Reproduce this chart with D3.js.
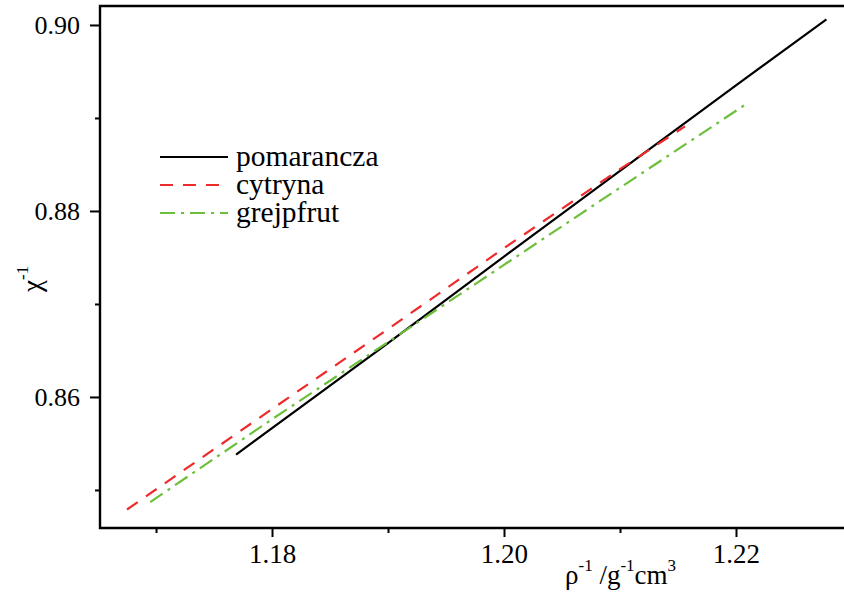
<!DOCTYPE html>
<html>
<head>
<meta charset="utf-8">
<script src="https://cdn.jsdelivr.net/npm/d3@7"></script>
<style>
  body { margin: 0; background: #fff; }
  svg { display: block; font-family: "Liberation Serif", "Times New Roman", serif; }
</style>
</head>
<body>
<div class="chart"></div>
<script>
// series (x = 1/rho, y = 1/chi)
var names = ["pomarancza", "cytryna", "grejpfrut"];
var colors = ["#000000", "#ee2a2a", "#6cbf3c"];
var dashes = [null, "13,10", "15,6,3,6"];

var pomaranczaX = [1.1769, 1.19, 1.20, 1.21, 1.22, 1.2278];
var pomaranczaY = [0.8538, 0.8658, 0.8751, 0.8843, 0.8935, 0.9006];

var cytrynaX = [1.1675, 1.18, 1.19, 1.20, 1.21, 1.2156];
var cytrynaY = [0.8479, 0.8587, 0.8673, 0.8760, 0.8845, 0.8891];

var grejpfrutX = [1.1695, 1.18, 1.19, 1.20, 1.21, 1.2210];
var grejpfrutY = [0.8487, 0.8576, 0.8659, 0.8742, 0.8825, 0.8916];

var xMajor = [1.18, 1.20, 1.22];
var xMinor = [1.17, 1.19, 1.21];
var yMajor = [0.86, 0.88, 0.90];
var yMinor = [0.85, 0.87, 0.89];

var width = 844, height = 594;
var mLeft = 100, mRight = 850, mTop = 6, mBottom = 528;

var svg = d3.select(".chart").append("svg")
  .attr("width", width)
  .attr("height", height);

var x = d3.scaleLinear().domain([1.16517, 1.22983]).range([mLeft, mRight]);
var y = d3.scaleLinear().domain([0.84591, 0.90204]).range([mBottom, mTop]);

var series = [
  {name: names[0], xs: pomaranczaX, ys: pomaranczaY},
  {name: names[1], xs: cytrynaX, ys: cytrynaY},
  {name: names[2], xs: grejpfrutX, ys: grejpfrutY}
];

// axes
var fmt = d3.format(".2f");
svg.append("g")
  .attr("transform", "translate(0," + mBottom + ")")
  .call(d3.axisBottom(x).tickValues(xMinor).tickSize(5).tickFormat(""))
  .call(function(g) { g.select(".domain").remove(); });
svg.append("g")
  .attr("class", "xmaj")
  .attr("transform", "translate(0," + mBottom + ")")
  .call(d3.axisBottom(x).tickValues(xMajor).tickSize(9).tickPadding(7).tickFormat(fmt))
  .call(function(g) { g.select(".domain").remove(); });
svg.append("g")
  .attr("transform", "translate(" + mLeft + ",0)")
  .call(d3.axisLeft(y).tickValues(yMinor).tickSize(5).tickFormat(""))
  .call(function(g) { g.select(".domain").remove(); });
svg.append("g")
  .attr("class", "ymaj")
  .attr("transform", "translate(" + mLeft + ",0)")
  .call(d3.axisLeft(y).tickValues(yMajor).tickSize(10).tickPadding(10).tickFormat(fmt))
  .call(function(g) { g.select(".domain").remove(); });

svg.selectAll(".tick line").attr("stroke", "#000").attr("stroke-width", 2);
svg.selectAll(".tick text").attr("fill", "#000").attr("font-family", "Liberation Serif, Times New Roman, serif");
svg.selectAll(".xmaj .tick text").attr("font-size", 27);
svg.selectAll(".ymaj .tick text").attr("font-size", 26);

// frame (left, top, bottom)
svg.append("path")
  .attr("d", "M" + mRight + "," + mTop + "H" + mLeft + "V" + mBottom + "H" + mRight)
  .attr("fill", "none")
  .attr("stroke", "#000")
  .attr("stroke-width", 2.4);

// lines
var line = d3.line()
  .x(function(d) { return x(d[0]); })
  .y(function(d) { return y(d[1]); });

series.forEach(function(s, i) {
  var pts = s.xs.map(function(v, j) { return [v, s.ys[j]]; });
  svg.append("path")
    .datum(pts)
    .attr("d", line)
    .attr("fill", "none")
    .attr("stroke", colors[i])
    .attr("stroke-width", 2.2)
    .attr("stroke-dasharray", dashes[i]);
});

// legend
var legend = svg.append("g").attr("transform", "translate(160,157)");
var item = legend.selectAll("g").data(names).enter().append("g")
  .attr("transform", function(d, i) { return "translate(0," + i * 28 + ")"; });
item.append("line")
  .attr("x1", 0).attr("x2", 68)
  .attr("stroke", function(d, i) { return colors[i]; })
  .attr("stroke-width", 2.2)
  .attr("stroke-dasharray", function(d, i) { return dashes[i]; });
item.append("text")
  .attr("x", 76)
  .attr("y", 9)
  .attr("font-size", 29.5)
  .text(function(d) { return d; });

// axis titles
var xt = svg.append("text")
  .attr("x", 565)
  .attr("y", 584)
  .attr("font-size", 27);
xt.append("tspan").text("ρ");
xt.append("tspan").attr("dy", -13).attr("font-size", 17).text("-1");
xt.append("tspan").attr("dy", 13).text(" /g");
xt.append("tspan").attr("dy", -13).attr("font-size", 17).text("-1");
xt.append("tspan").attr("dy", 13).text("cm");
xt.append("tspan").attr("dy", -13).attr("font-size", 17).text("3");

var yt = svg.append("text")
  .attr("transform", "translate(41,292) rotate(-90)")
  .attr("font-size", 27);
yt.append("tspan").text("χ");
yt.append("tspan").attr("dy", -13).attr("font-size", 17).text("-1");
</script>
</body>
</html>
